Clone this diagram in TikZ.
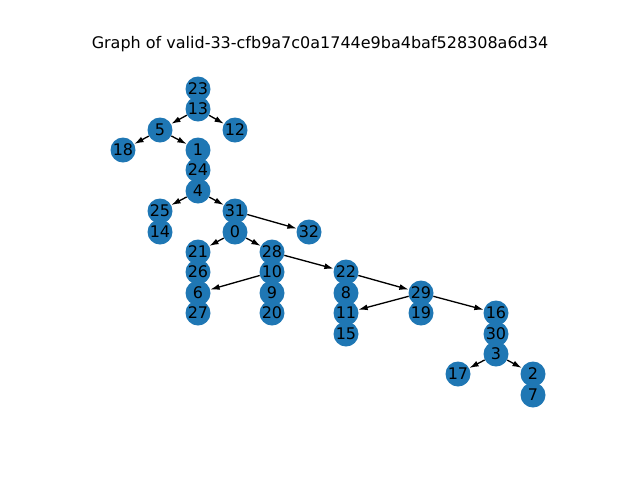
\documentclass[tikz,border=0pt]{standalone}
\usepackage{fontspec}
\setmainfont{DejaVu Sans}
\usetikzlibrary{arrows.meta}
\definecolor{nodeblue}{HTML}{1F77B4}
\begin{document}
\begin{tikzpicture}[x=0.75pt,y=-0.75pt,>={Latex[length=7pt,width=4.5pt]}]
        \tikzstyle{vertex}=[circle,fill=nodeblue,inner sep=0pt,minimum size=18.75pt,font=\fontsize{12}{14}\selectfont]
        \tikzstyle{edge}=[->,line width=1pt,black]
        \useasboundingbox (0,0) rectangle (640,480);
        \node (title) at (320,44) {\fontsize{12}{14}\selectfont Graph of valid-33-cfb9a7c0a1744e9ba4baf528308a6d34};
        \node[vertex] (n23) at (198,89) {23};
        \node[vertex] (n13) at (198,109) {13};
        \node[vertex] (n5) at (160,130) {5};
        \node[vertex] (n12) at (235,130) {12};
        \node[vertex] (n18) at (123,150) {18};
        \node[vertex] (n1) at (198,150) {1};
        \node[vertex] (n24) at (198,170) {24};
        \node[vertex] (n4) at (198,191) {4};
        \node[vertex] (n25) at (160,211) {25};
        \node[vertex] (n31) at (235,211) {31};
        \node[vertex] (n14) at (160,232) {14};
        \node[vertex] (n0) at (235,232) {0};
        \node[vertex] (n32) at (309,232) {32};
        \node[vertex] (n21) at (198,252) {21};
        \node[vertex] (n28) at (272,252) {28};
        \node[vertex] (n26) at (198,272) {26};
        \node[vertex] (n10) at (272,272) {10};
        \node[vertex] (n22) at (346,272) {22};
        \node[vertex] (n6) at (198,293) {6};
        \node[vertex] (n9) at (272,293) {9};
        \node[vertex] (n8) at (346,293) {8};
        \node[vertex] (n29) at (421,293) {29};
        \node[vertex] (n27) at (198,313) {27};
        \node[vertex] (n20) at (272,313) {20};
        \node[vertex] (n11) at (346,313) {11};
        \node[vertex] (n19) at (421,313) {19};
        \node[vertex] (n16) at (496,313) {16};
        \node[vertex] (n15) at (346,334) {15};
        \node[vertex] (n30) at (496,334) {30};
        \node[vertex] (n3) at (496,354) {3};
        \node[vertex] (n17) at (458,374) {17};
        \node[vertex] (n2) at (533,374) {2};
        \node[vertex] (n7) at (533,395) {7};
        \draw[edge] (n13) -- (n5);
        \draw[edge] (n13) -- (n12);
        \draw[edge] (n5) -- (n18);
        \draw[edge] (n5) -- (n1);
        \draw[edge] (n4) -- (n25);
        \draw[edge] (n4) -- (n31);
        \draw[edge] (n31) -- (n32);
        \draw[edge] (n0) -- (n21);
        \draw[edge] (n0) -- (n28);
        \draw[edge] (n28) -- (n22);
        \draw[edge] (n10) -- (n6);
        \draw[edge] (n22) -- (n29);
        \draw[edge] (n29) -- (n11);
        \draw[edge] (n29) -- (n16);
        \draw[edge] (n3) -- (n17);
        \draw[edge] (n3) -- (n2);
    \end{tikzpicture}
\end{document}
